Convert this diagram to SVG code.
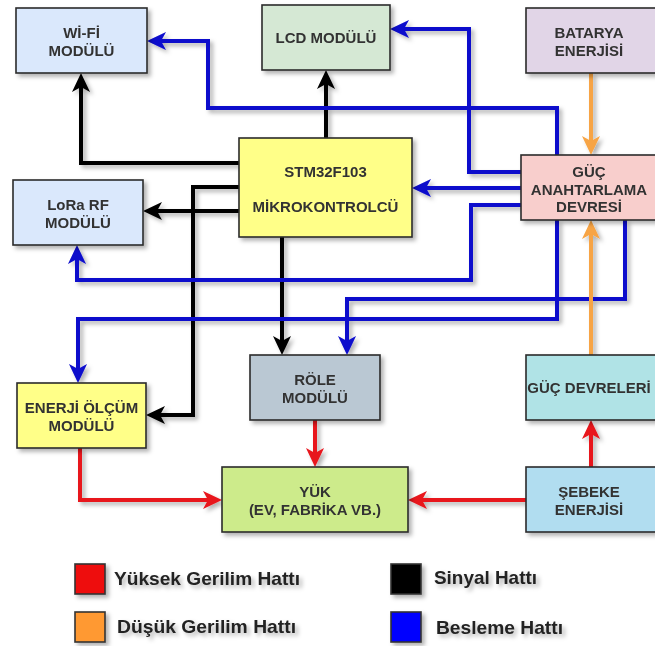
<svg xmlns="http://www.w3.org/2000/svg" width="655" height="646" viewBox="0 0 655 646">
<style>
.box{stroke:#2b2b2b;stroke-width:1.6}
.t{font-family:"Liberation Sans",Arial,sans-serif;font-weight:bold;font-size:15px;fill:#333;text-anchor:middle}
.lg{font-family:"Liberation Sans",Arial,sans-serif;font-weight:bold;font-size:19px;fill:#222}
.c{fill:none;stroke-width:4;stroke-linejoin:miter;stroke-linecap:butt}
.k{stroke:#000}
.b{stroke:#0a0acc}
.r{stroke:#e8141b}
.o{stroke:#f7a444}
.sq{stroke:#333;stroke-width:1.6}
</style>
<defs>
<filter id="sh" x="-10%" y="-10%" width="130%" height="140%">
<feDropShadow dx="3" dy="3" stdDeviation="2" flood-color="#000" flood-opacity="0.3"/>
</filter>
<marker id="ak" markerUnits="userSpaceOnUse" markerWidth="19" markerHeight="18" refX="5" refY="9" orient="auto"><path d="M0,0 L19,9 L0,18 L5,9 z" fill="#000"/></marker>
<marker id="ab" markerUnits="userSpaceOnUse" markerWidth="19" markerHeight="18" refX="5" refY="9" orient="auto"><path d="M0,0 L19,9 L0,18 L5,9 z" fill="#0a0acc"/></marker>
<marker id="ar" markerUnits="userSpaceOnUse" markerWidth="19" markerHeight="18" refX="5" refY="9" orient="auto"><path d="M0,0 L19,9 L0,18 L5,9 z" fill="#e8141b"/></marker>
<marker id="ao" markerUnits="userSpaceOnUse" markerWidth="19" markerHeight="18" refX="5" refY="9" orient="auto"><path d="M0,0 L19,9 L0,18 L5,9 z" fill="#f7a444"/></marker>
</defs>
<rect width="655" height="646" fill="#fff"/>
<g id="connectors" filter="url(#sh)">
<path class="c k" d="M239,163 H81 V87" marker-end="url(#ak)"/>
<path class="c k" d="M326,138 V84" marker-end="url(#ak)"/>
<path class="c k" d="M239,211 H157" marker-end="url(#ak)"/>
<path class="c k" d="M239,187 H193 V415 H160" marker-end="url(#ak)"/>
<path class="c k" d="M282,237 V341" marker-end="url(#ak)"/>
<path class="c b" d="M521,172 H469 V29 H404" marker-end="url(#ab)"/>
<path class="c b" d="M557,155 V108 H208 V41 H161" marker-end="url(#ab)"/>
<path class="c b" d="M521,188 H426" marker-end="url(#ab)"/>
<path class="c b" d="M521,205 H471 V280 H77 V259" marker-end="url(#ab)"/>
<path class="c b" d="M557,220 V319 H78 V369" marker-end="url(#ab)"/>
<path class="c b" d="M625,220 V299 H347 V341" marker-end="url(#ab)"/>
<path class="c o" d="M591,73 V141" marker-end="url(#ao)"/>
<path class="c o" d="M591,355 V234" marker-end="url(#ao)"/>
<path class="c r" d="M315,420 V453" marker-end="url(#ar)"/>
<path class="c r" d="M80,448 V500 H208" marker-end="url(#ar)"/>
<path class="c r" d="M526,500 H422" marker-end="url(#ar)"/>
<path class="c r" d="M591,467 V434" marker-end="url(#ar)"/>
</g>
<g id="wifi" filter="url(#sh)"><rect class="box" x="16" y="8" width="131" height="65" fill="#dae8fc"/><text class="t" x="81.5" y="37.5">Wİ-Fİ</text><text class="t" x="81.5" y="55.5">MODÜLÜ</text></g>
<g id="lcd" filter="url(#sh)"><rect class="box" x="262" y="5" width="128" height="65" fill="#d5e8d4"/><text class="t" x="326" y="42.5">LCD MODÜLÜ</text></g>
<g id="batarya" filter="url(#sh)"><rect class="box" x="526" y="8" width="134" height="65" fill="#e1d5e7"/><text class="t" x="589" y="37.5">BATARYA</text><text class="t" x="589" y="55.5">ENERJİSİ</text></g>
<g id="guc-anahtarlama" filter="url(#sh)"><rect class="box" x="521" y="155" width="139" height="65" fill="#f8cecc"/><text class="t" x="589" y="177">GÜÇ</text><text class="t" x="589" y="194.5">ANAHTARLAMA</text><text class="t" x="589" y="212">DEVRESİ</text></g>
<g id="stm32" filter="url(#sh)"><rect class="box" x="239" y="138" width="173" height="99" fill="#ffff88"/><text class="t" x="325.5" y="177">STM32F103</text><text class="t" x="325.5" y="212">MİKROKONTROLCÜ</text></g>
<g id="lora" filter="url(#sh)"><rect class="box" x="13" y="180" width="130" height="65" fill="#dae8fc"/><text class="t" x="78" y="209.5">LoRa RF</text><text class="t" x="78" y="227.5">MODÜLÜ</text></g>
<g id="role" filter="url(#sh)"><rect class="box" x="250" y="355" width="130" height="65" fill="#bac8d3"/><text class="t" x="315" y="384.5">RÖLE</text><text class="t" x="315" y="402.5">MODÜLÜ</text></g>
<g id="guc-devreleri" filter="url(#sh)"><rect class="box" x="526" y="355" width="134" height="65" fill="#b0e3e6"/><text class="t" x="589" y="392.5">GÜÇ DEVRELERİ</text></g>
<g id="enerji-olcum" filter="url(#sh)"><rect class="box" x="17" y="383" width="129" height="65" fill="#ffff88"/><text class="t" x="81.5" y="412.5">ENERJİ ÖLÇÜM</text><text class="t" x="81.5" y="430.5">MODÜLÜ</text></g>
<g id="yuk" filter="url(#sh)"><rect class="box" x="222" y="467" width="186" height="65" fill="#cdeb8b"/><text class="t" x="315" y="496.5">YÜK</text><text class="t" x="315" y="514.5">(EV, FABRİKA VB.)</text></g>
<g id="sebeke" filter="url(#sh)"><rect class="box" x="526" y="467" width="134" height="65" fill="#b1ddf0"/><text class="t" x="589" y="496.5">ŞEBEKE</text><text class="t" x="589" y="514.5">ENERJİSİ</text></g>
<g id="legend" filter="url(#sh)">
<rect class="sq" x="75" y="564" width="30" height="30" fill="#ee1111"/>
<text class="lg" x="114" y="585" textLength="186" lengthAdjust="spacingAndGlyphs">Yüksek Gerilim Hattı</text>
<rect class="sq" x="75" y="612" width="30" height="30" fill="#ff9933"/>
<text class="lg" x="117" y="633" textLength="179" lengthAdjust="spacingAndGlyphs">Düşük Gerilim Hattı</text>
<rect class="sq" x="391" y="564" width="30" height="30" fill="#000"/>
<text class="lg" x="434" y="584" textLength="103" lengthAdjust="spacingAndGlyphs">Sinyal Hattı</text>
<rect class="sq" x="391" y="612" width="30" height="30" fill="#0000ff"/>
<text class="lg" x="436" y="634" textLength="127" lengthAdjust="spacingAndGlyphs">Besleme Hattı</text>
</g>
</svg>
